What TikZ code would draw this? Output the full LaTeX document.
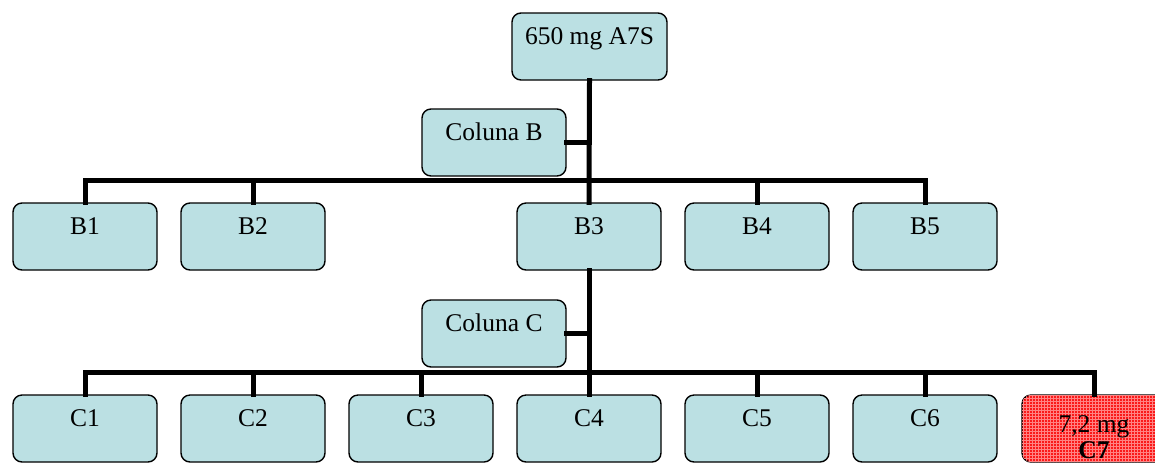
\documentclass[tikz,border=0pt]{standalone}
\usepackage{fontspec}
\setmainfont{Liberation Serif}
\usetikzlibrary{patterns}
\definecolor{boxblue}{RGB}{187,224,227}
\definecolor{boxred}{RGB}{250,25,25}
\definecolor{gridred}{RGB}{255,130,130}
\begin{document}
\begin{tikzpicture}[x=1pt,y=-1pt,
  orgbox/.style={draw=black, line width=1.4pt, fill=boxblue, rounded corners=9pt,
    minimum width=144pt, minimum height=67pt, inner sep=0pt,
    text height=31pt, text depth=36pt,
    font=\fontsize{25.5}{29}\selectfont},
  redbox/.style={orgbox, fill=boxred,
    postaction={pattern=grid, pattern color=gridred}},
  link/.style={line width=5pt, line join=miter, line cap=rect}]
\clip (0,0) rectangle (1155,467);
\fill[white] (0,0) rectangle (1155,467);
% nodes
\node[orgbox, minimum width=155pt] (top) at (589.5,46.5) {650 mg A7S};
\node[orgbox] (colB) at (494,142.5) {Coluna B};
\node[orgbox] (B1) at (85,236.5) {B1};
\node[orgbox] (B2) at (253,236.5) {B2};
\node[orgbox] (B3) at (589,236.5) {B3};
\node[orgbox] (B4) at (757,236.5) {B4};
\node[orgbox] (B5) at (925,236.5) {B5};
\node[orgbox] (colC) at (494,333.5) {Coluna C};
\node[orgbox] (C1) at (85,428.5) {C1};
\node[orgbox] (C2) at (253,428.5) {C2};
\node[orgbox] (C3) at (421,428.5) {C3};
\node[orgbox] (C4) at (589,428.5) {C4};
\node[orgbox] (C5) at (757,428.5) {C5};
\node[orgbox] (C6) at (925,428.5) {C6};
\node[redbox, text height=37pt, text depth=30pt] (C7) at (1094,428.5)
  {\begin{tabular}[t]{@{}c@{}}7,2 mg\\[-3pt]\textbf{C7}\end{tabular}};
% bars
\coordinate (barB) at (589,180);
\coordinate (barC) at (589,372);
% connectors level B
\draw[link] (top.south) -- (B3.north);
\draw[link] (colB.east) -- (colB.east -| top.south);
\draw[link] (B1.north) |- (barB) -| (B5.north);
\draw[link] (B2.north) -- (B2.north |- barB);
\draw[link] (B4.north) -- (B4.north |- barB);
% connectors level C
\draw[link] (B3.south) -- (C4.north);
\draw[link] (colC.east) -- (colC.east -| B3.south);
\draw[link] (C1.north) |- (barC) -| (C7.north);
\draw[link] (C2.north) -- (C2.north |- barC);
\draw[link] (C3.north) -- (C3.north |- barC);
\draw[link] (C5.north) -- (C5.north |- barC);
\draw[link] (C6.north) -- (C6.north |- barC);
\end{tikzpicture}
\end{document}
